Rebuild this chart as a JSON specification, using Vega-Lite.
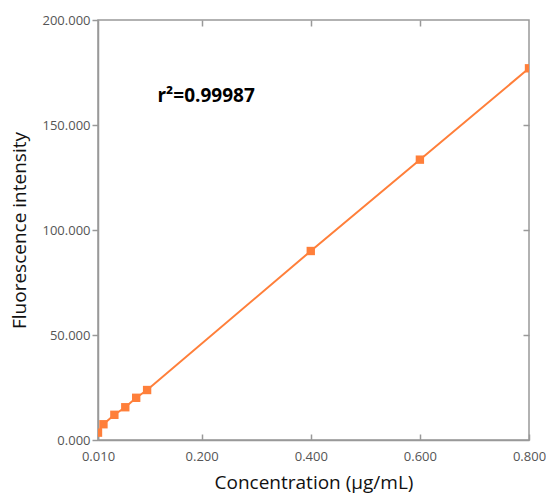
{
  "$schema": "https://vega.github.io/schema/vega-lite/v6.json",
  "width": 431,
  "height": 420,
  "padding": {"left": 10, "top": 14, "right": 0, "bottom": 5},
  "background": "white",
  "config": {
    "view": {"stroke": "#999999", "strokeWidth": 1.5},
    "font": "Open Sans"
  },
  "datasets": {
    "pts": [
      {"conc": 0.01, "fi": 3.5},
      {"conc": 0.02, "fi": 7.5},
      {"conc": 0.04, "fi": 12.0},
      {"conc": 0.06, "fi": 15.6},
      {"conc": 0.08, "fi": 20.1},
      {"conc": 0.10, "fi": 23.8},
      {"conc": 0.40, "fi": 90.0},
      {"conc": 0.60, "fi": 133.5},
      {"conc": 0.80, "fi": 177.0}
    ],
    "note": [{"conc": 0.119, "fi": 164, "label": "r²=0.99987"}]
  },
  "resolve": {"axis": {"x": "independent", "y": "independent"}},
  "layer": [
    {
      "data": {"name": "pts"},
      "mark": {"type": "line", "color": "#FF7F3A", "strokeWidth": 2, "clip": true},
      "encoding": {
        "x": {
          "field": "conc", "type": "quantitative",
          "scale": {"domain": [0.01, 0.8], "nice": false, "zero": false},
          "axis": {
            "orient": "bottom",
            "title": "Concentration (μg/mL)", "values": [0.01, 0.2, 0.4, 0.6, 0.8], "format": ".3f",
            "grid": false, "domain": true, "domainColor": "#999999", "domainWidth": 1.5,
            "tickColor": "#999999", "tickSize": -6, "tickWidth": 1.5, "labelPadding": 16,
            "labelColor": "#555555", "labelFontSize": 13, "labelFlush": false,
            "titleFontSize": 19, "titleFontWeight": "normal", "titleColor": "#111111", "titlePadding": 10
          }
        },
        "y": {
          "field": "fi", "type": "quantitative",
          "scale": {"domain": [0, 200], "nice": false},
          "axis": {
            "orient": "left",
            "title": "Fluorescence intensity", "values": [0, 50, 100, 150, 200], "format": ".3f",
            "grid": false, "domain": true, "domainColor": "#999999", "domainWidth": 1.5,
            "tickColor": "#999999", "tickSize": 6, "tickWidth": 1.5, "labelPadding": 2,
            "labelColor": "#555555", "labelFontSize": 13,
            "titleFontSize": 19, "titleFontWeight": "normal", "titleColor": "#111111", "titlePadding": 12
          }
        }
      }
    },
    {
      "data": {"name": "pts"},
      "mark": {"type": "square", "color": "#FF7F3A", "opacity": 1, "size": 70, "clip": true},
      "encoding": {
        "x": {
          "field": "conc", "type": "quantitative",
          "axis": {"orient": "top", "title": null, "labels": false, "domain": false, "grid": false,
                   "values": [0.2, 0.4, 0.6], "tickColor": "#999999", "tickSize": -6, "tickWidth": 1.5}
        },
        "y": {
          "field": "fi", "type": "quantitative",
          "axis": {"orient": "right", "title": null, "labels": false, "domain": false, "grid": false,
                   "values": [50, 100, 150], "tickColor": "#999999", "tickSize": -6, "tickWidth": 1.5}
        }
      }
    },
    {
      "data": {"name": "note"},
      "mark": {"type": "text", "align": "left", "baseline": "middle", "fontSize": 19, "fontWeight": "bold", "color": "#000000", "font": "Open Sans"},
      "encoding": {
        "x": {"field": "conc", "type": "quantitative", "axis": null},
        "y": {"field": "fi", "type": "quantitative", "axis": null},
        "text": {"field": "label"}
      }
    }
  ]
}
